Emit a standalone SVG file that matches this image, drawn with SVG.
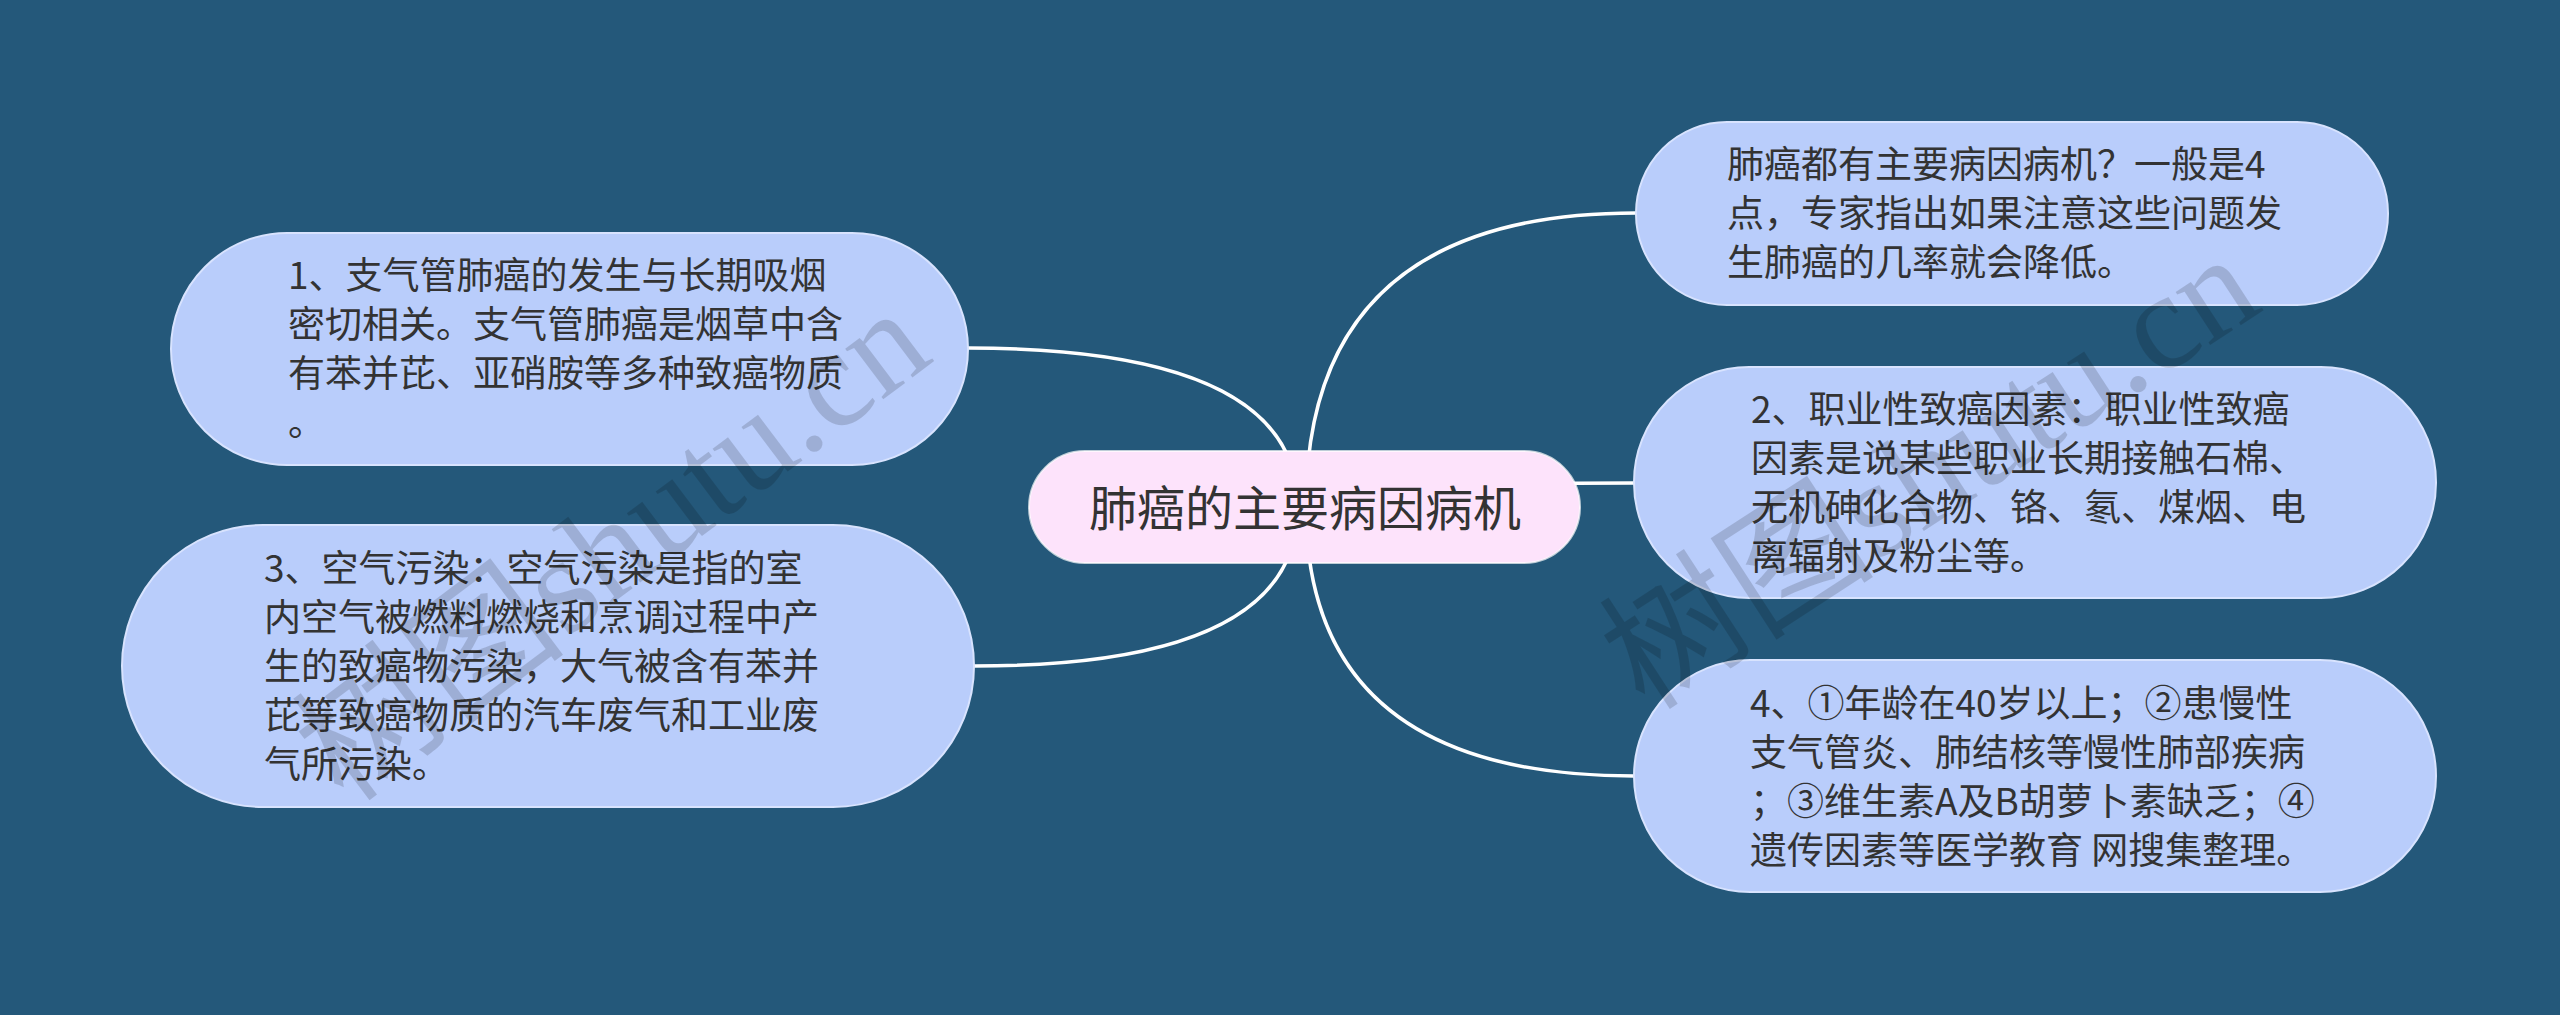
<svg xmlns="http://www.w3.org/2000/svg" width="2560" height="1015" viewBox="0 0 2560 1015">
<style>
.bg{fill:#24587a}
.node{fill:#b9cdfb;stroke:#d8e3fe;stroke-width:2}
.root{fill:#fde3fb;stroke:#ffffff;stroke-opacity:0.7;stroke-width:2}
.t{font-family:"Noto Sans CJK SC","Noto Sans",sans-serif;font-size:37px;fill:#333333}
.rt{font-family:"Noto Sans CJK SC","Noto Sans",sans-serif;font-size:48px;fill:#333333;text-anchor:middle}
.link{fill:none;stroke:#ffffff;stroke-width:3.5}
.wm{font-family:"Liberation Serif","Noto Sans CJK SC",serif;font-size:138px;fill:#000000;fill-opacity:0.15}
</style>
<rect class="bg" x="0" y="0" width="2560" height="1015"/>
<g id="connectors">
<path class="link" d="M 968 348 Q 1298 348 1298 507"/>
<path class="link" d="M 974 666 Q 1298 666 1298 507"/>
<path class="link" d="M 1306 507 Q 1306 213 1636 213"/>
<path class="link" d="M 1306 507 Q 1306 483 1634 483"/>
<path class="link" d="M 1306 507 Q 1306 776 1634 776"/>
</g>
<g id="root">
<rect class="root" x="1029" y="451" width="551" height="112" rx="56"/>
<text class="rt" x="1305" y="526">肺癌的主要病因病机</text>
</g>
<g id="node-top-right">
<rect class="node" x="1636" y="122" width="752" height="183" rx="91"/>
<text class="t"><tspan x="1727" y="178">肺癌都有主要病因病机？一般是4</tspan><tspan x="1727" y="227">点，专家指出如果注意这些问题发</tspan><tspan x="1727" y="276">生肺癌的几率就会降低。</tspan></text>
</g>
<g id="node-1">
<rect class="node" x="171" y="233" width="797" height="232" rx="116"/>
<text class="t"><tspan x="288" y="289">1、支气管肺癌的发生与长期吸烟</tspan><tspan x="288" y="338">密切相关。支气管肺癌是烟草中含</tspan><tspan x="288" y="387">有苯并芘、亚硝胺等多种致癌物质</tspan><tspan x="288" y="436">。</tspan></text>
</g>
<g id="node-3">
<rect class="node" x="122" y="525" width="852" height="282" rx="141"/>
<text class="t"><tspan x="264" y="582">3、空气污染：空气污染是指的室</tspan><tspan x="264" y="631">内空气被燃料燃烧和烹调过程中产</tspan><tspan x="264" y="680">生的致癌物污染，大气被含有苯并</tspan><tspan x="264" y="729">芘等致癌物质的汽车废气和工业废</tspan><tspan x="264" y="778">气所污染。</tspan></text>
</g>
<g id="node-2">
<rect class="node" x="1634" y="367" width="802" height="231" rx="115"/>
<text class="t"><tspan x="1751" y="423">2、职业性致癌因素：职业性致癌</tspan><tspan x="1751" y="472">因素是说某些职业长期接触石棉、</tspan><tspan x="1751" y="521">无机砷化合物、铬、氡、煤烟、电</tspan><tspan x="1751" y="570">离辐射及粉尘等。</tspan></text>
</g>
<g id="node-4">
<rect class="node" x="1634" y="660" width="802" height="232" rx="116"/>
<text class="t"><tspan x="1750" y="717">4、①年龄在40岁以上；②患慢性</tspan><tspan x="1750" y="766">支气管炎、肺结核等慢性肺部疾病</tspan><tspan x="1750" y="815">；③维生素A及B胡萝卜素缺乏；④</tspan><tspan x="1750" y="864">遗传因素等医学教育 网搜集整理。</tspan></text>
</g>
<g id="watermarks">
<text class="wm" transform="translate(345,805) rotate(-37)">树图shutu.cn</text>
<text class="wm" transform="translate(1645,712) rotate(-33)">树图shutu.cn</text>
</g>
</svg>
